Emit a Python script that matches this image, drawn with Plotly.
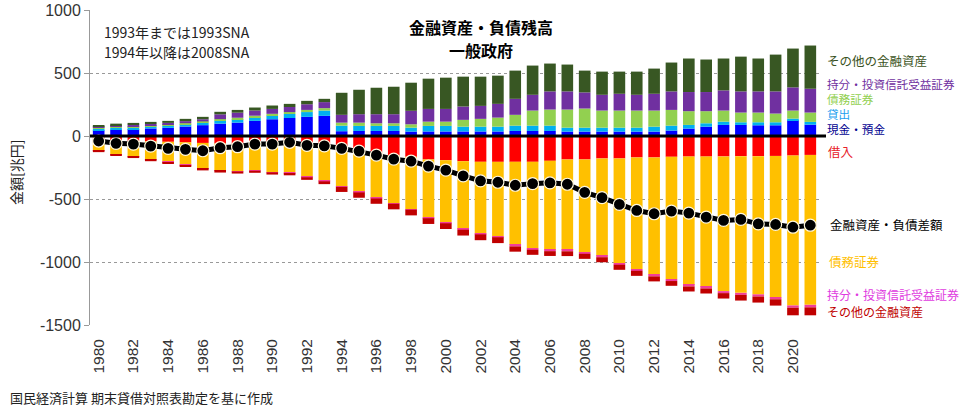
import plotly.graph_objects as go

years = list(range(1980, 2022))

# ---- Assets (positive, 兆円) ----
asset_cash = [45, 50, 55, 60, 65, 75, 86, 98, 106, 120, 133, 143, 152, 160,
              38, 40, 40, 40, 35, 36, 36, 36, 36, 36, 40, 40, 40, 35, 35, 35, 35, 35, 35,
              43, 59, 74, 88, 88, 85, 85, 125, 90]
asset_loans = [13, 15, 15, 16, 17, 18, 20, 24, 26, 27, 29, 32, 38, 42,
               44, 40, 40, 40, 31, 44, 44, 38, 38, 38, 42, 42, 42, 31, 31, 31, 31, 31, 39,
               39, 29, 27, 26, 21, 24, 24, 13, 22]
asset_debt = [7, 8, 8, 8, 9, 9, 10, 12, 13, 14, 14, 15, 17, 19,
              24, 26, 21, 21, 27, 34, 34, 54, 62, 72, 86, 120, 128, 144, 152, 136, 136, 136, 128,
              125, 109, 96, 88, 77, 77, 69, 64, 74]
asset_equity = [8, 12, 12, 13, 13, 16, 17, 38, 40, 41, 39, 40, 45, 48,
                62, 67, 72, 72, 107, 101, 101, 106, 103, 109, 127, 125, 144, 144, 128, 125, 133, 125, 133,
                147, 152, 152, 160, 168, 168, 176, 184, 189]
asset_other = [9, 13, 14, 15, 16, 18, 19, 20, 22, 24, 27, 25, 27, 26,
               175, 194, 210, 218, 223, 240, 248, 237, 232, 224, 224, 232, 221, 213, 173, 184, 176, 184, 200,
               229, 266, 258, 253, 276, 261, 292, 308, 343]

# ---- Liabilities (negative, 兆円) ----
liab_borrow = [-35, -38, -40, -43, -46, -50, -55, -60, -62, -64, -66, -70, -78, -90,
               -120, -125, -138, -152, -165, -186, -192, -200, -205, -205, -205, -205, -197, -186, -186,
               -178, -178, -170, -170,
               -165, -163, -163, -162, -160, -160, -158, -155, -150]
liab_debt = [-81, -107, -121, -142, -159, -178, -201, -212, -217, -209, -220, -221, -247, -267,
             -280, -319, -353, -381, -415, -461, -495, -538, -570, -592, -659, -686, -705, -717, -737,
             -772, -830, -886, -930,
             -970, -1017, -1033, -1069, -1085, -1097, -1124, -1190, -1190]
liab_equity = [-2, -3, -3, -3, -3, -3, -3, -3, -3, -3, -3, -3, -3, -3,
               -4, -4, -5, -5, -5, -6, -6, -6, -6, -7, -12, -12, -12, -12, -12, -12, -14, -14, -14,
               -16, -14, -14, -16, -16, -17, -14, -18, -20]
liab_other = [-10, -10, -11, -12, -12, -13, -14, -15, -16, -16, -17, -18, -20, -22,
              -40, -42, -42, -44, -45, -45, -45, -46, -46, -46, -42, -40, -38, -38, -40, -40, -40, -40, -40,
              -38, -40, -40, -43, -45, -48, -50, -60, -63]

# ---- Net (金融資産・負債差額) ----
net_balance = [-40, -58, -64, -80, -98, -106, -117, -93, -85, -64, -64, -50, -74, -78,
               -98, -120, -152, -184, -200, -239, -271, -317, -356, -367, -391, -378, -372, -383, -447,
               -489, -543, -591, -617,
               -596, -612, -644, -670, -662, -697, -702, -724, -708]

x_ticks = list(range(1980, 2021, 2))
y_ticks = [1000, 500, 0, -500, -1000, -1500]

FONT = "Noto Sans CJK JP"

fig = go.Figure()
series = [
    ("現金・預金", asset_cash, "#0000FF"),
    ("貸出", asset_loans, "#00B0F0"),
    ("債務証券", asset_debt, "#92D050"),
    ("持分・投資信託受益証券", asset_equity, "#7030A0"),
    ("その他の金融資産", asset_other, "#385723"),
    ("借入", liab_borrow, "#FF0000"),
    ("債務証券", liab_debt, "#FFC000"),
    ("持分・投資信託受益証券", liab_equity, "#F23C9B"),
    ("その他の金融資産", liab_other, "#C00000"),
]
for name, vals, col in series:
    fig.add_trace(go.Bar(x=years, y=vals, name=name, marker=dict(color=col, line=dict(width=0))))

fig.add_trace(go.Scatter(
    x=years, y=net_balance, mode="lines+markers", name="金融資産・負債差額",
    line=dict(color="black", width=5),
    marker=dict(color="black", size=12, line=dict(color="#FFF8E0", width=1.2)),
))

# plot area geometry (pixels)
L, R, T, B = 90, 160, 10, 89
W = 979 - L - R
H = 414 - T - B

def px(xp):
    return (xp - L) / W

def py(yp):
    return (414 - B - yp) / H

def span(txt, col):
    return f'<span style="color:{col}">{txt}</span>'

def label(txt, x0, y0, col, fs, anchor="left", bold=False):
    return dict(text=f"<b>{txt}</b>" if bold else txt, x=px(x0), y=py(y0),
                xref="paper", yref="paper", xanchor=anchor, yanchor="middle",
                showarrow=False, borderpad=0,
                font=dict(family=FONT, size=fs, color=col))

annotations = [
    label("その他の金融資産", 826, 60, "#3B5323", 12.5),
    label("借入", 827, 152, "#E8202A", 12.5),
    label("金融資産・負債差額", 829, 224, "#000000", 12.5),
    label("債務証券", 828, 261, "#FFC000", 12.5),
    label("持分・投資信託受益証券", 826, 294, "#E03CE0", 12),
    label("その他の金融資産", 826, 311.5, "#C00000", 12),
    label("金融資産・負債残高", 481, 26.5, "black", 16, anchor="center", bold=True),
    label("一般政府", 481, 50, "black", 16, anchor="center", bold=True),
    label("1993年までは1993SNA", 103, 32, "#222222", 14),
    label("1994年以降は2008SNA", 103, 52.5, "#222222", 14),
    label("国民経済計算 期末貸借対照表勘定を基に作成", 9, 397, "#222222", 13),
]

# tightly stacked label group (one text block)
upper_group = "<br>".join([span("持分・投資信託受益証券", "#7030A0"),
                           span("債務証券", "#92D050"),
                           span("貸出", "#1E9FEF"),
                           span("現金・預金", "#000090")])
annotations.append(dict(text=upper_group, x=px(826), y=py(106.5), xref="paper", yref="paper",
                        xanchor="left", yanchor="middle", align="left", showarrow=False, borderpad=0,
                        font=dict(family=FONT, size=11.6, color="#000000")))

annotations.append(dict(text="金額[兆円]", x=px(16), y=py(173), xref="paper", yref="paper",
                        xanchor="center", yanchor="middle", showarrow=False, textangle=-90,
                        font=dict(family=FONT, size=14, color="#222222")))

fig.update_layout(
    width=979, height=414,
    margin=dict(l=L, r=R, t=T, b=B, autoexpand=False),
    barmode="relative", bargap=0.33,
    plot_bgcolor="white", paper_bgcolor="white",
    showlegend=False,
    annotations=annotations,
    shapes=[dict(type="line", xref="paper", yref="y", x0=0, x1=px(826), y0=0, y1=0,
                 line=dict(color="black", width=3), layer="above")],
    font=dict(family=FONT),
)
fig.update_xaxes(range=[1979.5, 2021.5], tickvals=x_ticks, ticktext=[str(v) for v in x_ticks],
                 tickangle=-90, showgrid=False, showline=False, zeroline=False,
                 ticks="", ticklabelstandoff=10,
                 tickfont=dict(family="Liberation Sans", size=15.5, color="#333333"))
fig.update_yaxes(range=[-1500, 1000], tickvals=y_ticks, ticktext=[str(v) for v in y_ticks],
                 showgrid=True, gridcolor="#999999", griddash="dot", gridwidth=1,
                 zeroline=False, showline=True, linecolor="#999999", linewidth=1,
                 ticks="outside", ticklen=5, tickcolor="#999999",
                 tickfont=dict(family="Liberation Sans", size=16, color="#333333"))

fig.write_html("out.html")
